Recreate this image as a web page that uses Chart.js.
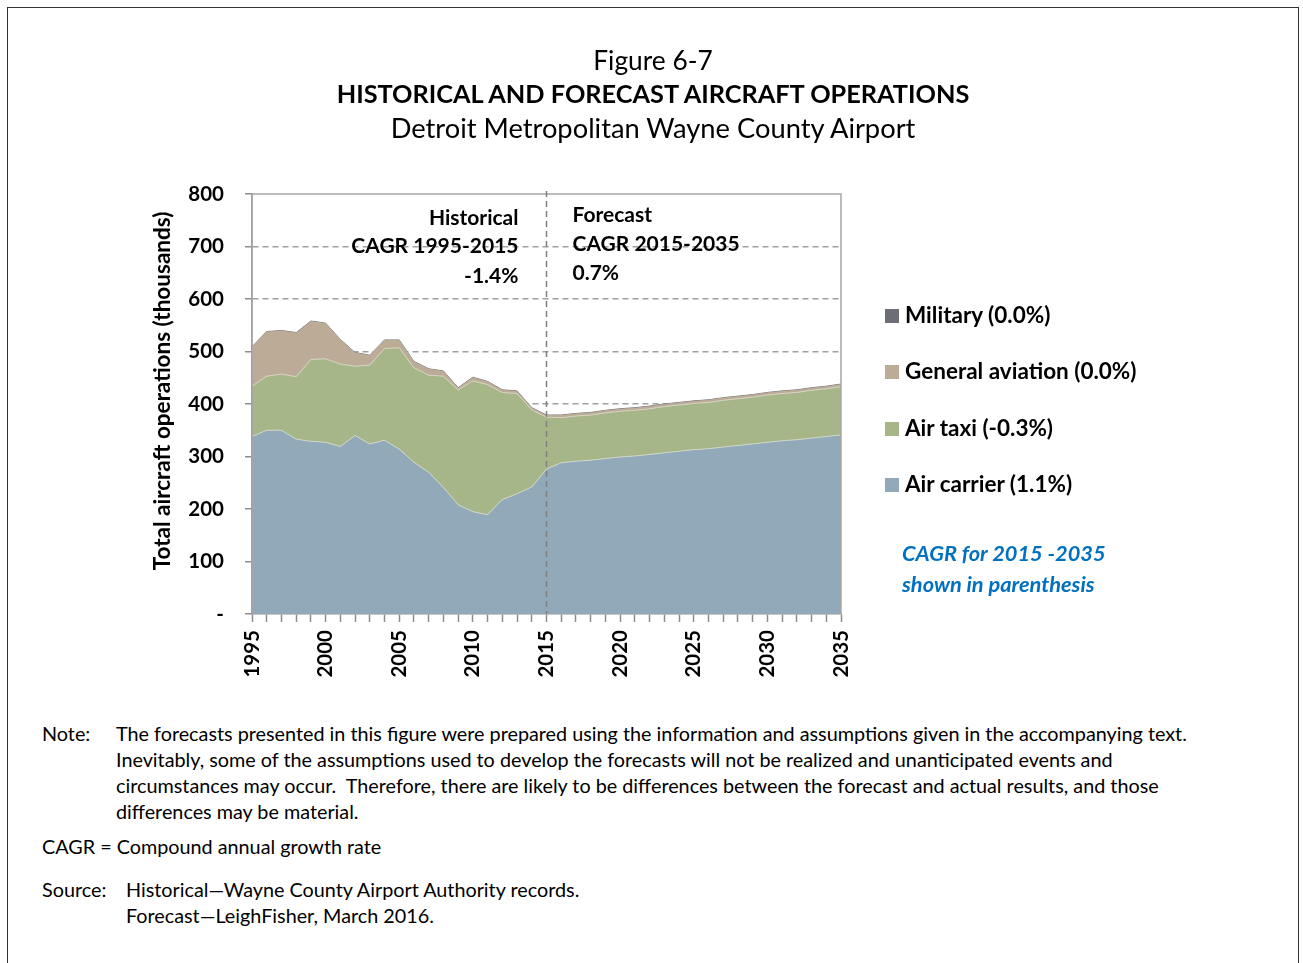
<!DOCTYPE html>
<html>
<head>
<meta charset="utf-8">
<script src="https://cdn.jsdelivr.net/npm/chart.js@4/dist/chart.umd.min.js"></script>
<style>
  html, body { margin: 0; width: 1303px; height: 963px; overflow: hidden; background: #fff; }
  body { font-family: Lato, "Open Sans", sans-serif; color: #000; position: relative; }
  #frame { position: absolute; left: 7px; top: 7px; width: 1292px; height: 1000px; border: 1px solid #333; box-sizing: border-box; }
  #chart { position: absolute; left: 0; top: 0; }
  .t { position: absolute; left: 0; width: 1306px; text-align: center; line-height: 32px; }
  .leg { position: absolute; left: 885px; font-size: 22.5px; font-weight: bold; line-height: 26px; white-space: nowrap; }
  .leg i { display: inline-block; width: 14px; height: 14px; margin-right: 6px; vertical-align: 0px; }
  .blue { position: absolute; left: 902px; color: #0070c0; font-size: 21.8px; font-weight: bold; font-style: italic; line-height: 26px; white-space: nowrap; }
  .n { position: absolute; font-size: 19.8px; line-height: 26px; white-space: nowrap; }
</style>
</head>
<body>
<div id="frame"></div>
<canvas id="chart" width="1303" height="700"></canvas>

<div class="t" style="top:44px;font-size:26.3px">Figure 6-7</div>
<div class="t" style="top:77px;font-size:25.3px;font-weight:bold">HISTORICAL AND FORECAST AIRCRAFT OPERATIONS</div>
<div class="t" style="top:112px;font-size:27.3px">Detroit Metropolitan Wayne County Airport</div>

<div id="legend"></div>
<div class="blue" style="top:540px">CAGR for 2015 -2035</div>
<div class="blue" style="top:571px">shown in parenthesis</div>

<div class="n" style="left:42px;top:720px">Note:</div>
<div class="n" style="left:116px;top:720px">The forecasts presented in this figure were prepared using the information and assumptions given in the accompanying text.</div>
<div class="n" style="left:116px;top:746px">Inevitably, some of the assumptions used to develop the forecasts will not be realized and unanticipated events and</div>
<div class="n" style="left:116px;top:772px">circumstances may occur.&nbsp; Therefore, there are likely to be differences between the forecast and actual results, and those</div>
<div class="n" style="left:116px;top:798px">differences may be material.</div>
<div class="n" style="left:42px;top:833px">CAGR = Compound annual growth rate</div>
<div class="n" style="left:42px;top:876px">Source:</div>
<div class="n" style="left:126px;top:876px">Historical—Wayne County Airport Authority records.</div>
<div class="n" style="left:126px;top:902px">Forecast—LeighFisher, March 2016.</div>

<script>
const years = [1995,1996,1997,1998,1999,2000,2001,2002,2003,2004,2005,2006,2007,2008,2009,2010,
  2011,2012,2013,2014,2015,2016,2017,2018,2019,2020,2021,2022,2023,2024,2025,
  2026,2027,2028,2029,2030,2031,2032,2033,2034,2035];

// thousands of operations, 1995-2015 historical, 2016-2035 forecast
const airCarrier = [338,350,350,333,329,327,319,340,324,331,314,289,270,241,208,195,
  189,218,229,242,276,288,291,293,296,299,301,304,307,310,313,
  315,318,321,324,327,330,332,335,338,341];
const airTaxi = [96,103,107,119,156,159,157,132,150,175,193,180,185,212,219,249,
  248,204,191,147,99,86,86,86,87,87,87,87,88,88,88,
  88,89,89,89,90,90,90,91,91,92];
const generalAviation = [74,84,82,83,72,67,46,25,18,15,14,11,11,9,3,6,
  5,4,4,3,3,4,4,4,4,4,4,4,4,4,4,
  4,4,4,4,4,4,4,4,4,4];
const military = [1,1,1,1,1,1,1,1,1,1,1,1,1,1,1,1,
  1,1,1,1,1,1,1,1,1,1,1,1,1,1,1,
  1,1,1,1,1,1,1,1,1,1];

const seriesNames = ['Air carrier (1.1%)', 'Air taxi (-0.3%)', 'General aviation (0.0%)', 'Military (0.0%)'];
const seriesColors = ['#92a9b9', '#a7b689', '#bcac97', '#6d6d75'];
const yTicks = [0,100,200,300,400,500,600,700,800];
const splitYear = 2015;
const yTitle = 'Total aircraft operations (thousands)';

// legend, top item is Military
const legendTops = [302, 358, 415, 471];
const legendEl = document.getElementById('legend');
[3,2,1,0].forEach((s, i) => {
  const d = document.createElement('div');
  d.className = 'leg';
  d.style.top = legendTops[i] + 'px';
  d.innerHTML = '<i style="background:' + seriesColors[s] + '"></i>' + seriesNames[s];
  legendEl.appendChild(d);
});

const fam = 'Lato, "Open Sans", sans-serif';
const font = { family: fam, size: 20.5, weight: 'bold' };

const overlay = {
  id: 'overlay',
  afterDatasetsDraw(chart) {
    const {ctx, chartArea: a, scales: {x}} = chart;
    const sx = x.getPixelForValue(years.indexOf(splitYear));
    ctx.save();
    // plot frame
    ctx.strokeStyle = '#a6a6a6';
    ctx.lineWidth = 1.5;
    ctx.beginPath();
    ctx.moveTo(a.left, a.bottom); ctx.lineTo(a.left, a.top);
    ctx.lineTo(a.right, a.top); ctx.lineTo(a.right, a.bottom);
    ctx.stroke();
    // 2015 divider
    ctx.strokeStyle = '#7f7f7f';
    ctx.setLineDash([6, 4]);
    ctx.beginPath();
    ctx.moveTo(sx, a.top - 3); ctx.lineTo(sx, a.bottom);
    ctx.stroke();
    ctx.setLineDash([]);
    // period labels
    ctx.fillStyle = '#000';
    ctx.font = 'bold 21px ' + fam;
    ctx.textBaseline = 'middle';
    ctx.textAlign = 'right';
    ctx.fillText('Historical', sx - 28, a.top + 24);
    ctx.fillText('CAGR 1995-2015', sx - 28, a.top + 52);
    ctx.fillText('-1.4%', sx - 28, a.top + 82);
    ctx.textAlign = 'left';
    ctx.fillText('Forecast', sx + 26, a.top + 21);
    ctx.fillText('CAGR 2015-2035', sx + 26, a.top + 50);
    ctx.fillText('0.7%', sx + 26, a.top + 79);
    // y axis title, sits a little above the plot centre as in the original
    ctx.font = 'bold 22.5px ' + fam;
    ctx.textAlign = 'center';
    ctx.translate(163, (a.top + a.bottom) / 2 - 13);
    ctx.rotate(-Math.PI / 2);
    ctx.fillText(yTitle, 0, 0);
    ctx.restore();
  }
};

new Chart(document.getElementById('chart'), {
  type: 'line',
  data: {
    labels: years,
    datasets: [
      { label: seriesNames[0], data: airCarrier, backgroundColor: seriesColors[0], borderColor: '#cfd6c6', borderWidth: 1, fill: 'origin' },
      { label: seriesNames[1], data: airTaxi, backgroundColor: seriesColors[1], borderColor: '#d6d2c2', borderWidth: 1, fill: '-1' },
      { label: seriesNames[2], data: generalAviation, backgroundColor: seriesColors[2], borderColor: seriesColors[2], borderWidth: 1, fill: '-1' },
      { label: seriesNames[3], data: military, backgroundColor: seriesColors[3], borderColor: '#77777f', borderWidth: 1, fill: '-1' }
    ]
  },
  options: {
    responsive: false,
    animation: false,
    elements: { point: { radius: 0 }, line: { tension: 0 } },
    layout: { padding: { left: 140, top: 194, right: 462, bottom: 6 } },
    plugins: { legend: { display: false }, tooltip: { enabled: false } },
    scales: {
      x: {
        offset: false,
        grid: { drawOnChartArea: false, tickLength: 8, tickColor: '#8c8c8c', tickWidth: 1.5 },
        border: { color: '#8c8c8c', width: 1.5 },
        ticks: {
          autoSkip: false, maxRotation: 90, minRotation: 90, padding: 8, color: '#000', font: font,
          callback: (v, i) => years[i] % 5 === 0 ? String(years[i]) : ''
        },
        afterFit: s => { s.height = 80; }
      },
      y: {
        stacked: true,
        min: 0, max: 800,
        afterBuildTicks: s => { s.ticks = yTicks.map(v => ({ value: v })); },
        grid: {
          color: c => (c.tick && (c.tick.value === 0 || c.tick.value === 800)) ? 'rgba(0,0,0,0)' : '#a0a0a0',
          lineWidth: 1.5, tickLength: 7, tickColor: '#8c8c8c', tickWidth: 1.5
        },
        border: { color: '#8c8c8c', width: 1.5, dash: [6, 4] },
        ticks: { padding: 21, color: '#000', font: font, callback: v => v === 0 ? '-' : String(v) },
        afterFit: s => { s.width = 112; }
      }
    }
  },
  plugins: [overlay]
});
</script>
</body>
</html>
